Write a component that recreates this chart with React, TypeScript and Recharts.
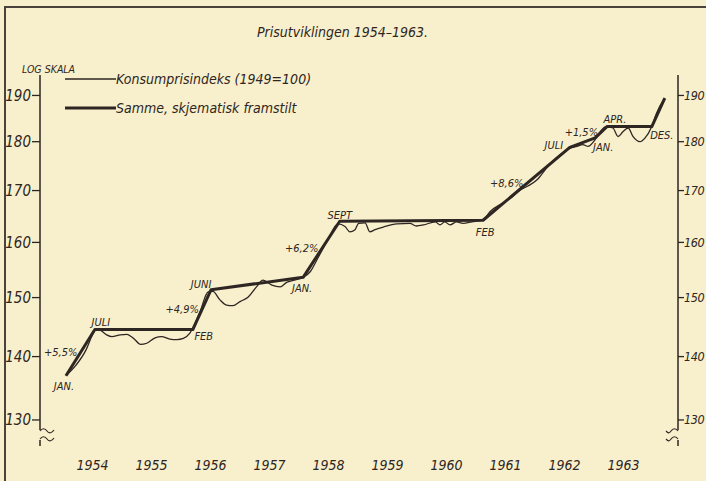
import React from "react"
import { LineChart, Line, XAxis, YAxis, ReferenceDot, Legend } from "recharts"

// Konsumprisindeks (1949 = 100)
const cpiYears = [
  1954.05, 1954.22, 1954.39, 1954.49, 1954.56, 1954.63, 1954.74, 1954.83, 1954.97, 1955.08,
  1955.22, 1955.31, 1955.42, 1955.56, 1955.67, 1955.81, 1955.93, 1956.04, 1956.15, 1956.32,
  1956.46, 1956.54, 1956.66, 1956.77, 1956.88, 1957.0, 1957.14, 1957.28, 1957.39, 1957.54,
  1957.68, 1957.79, 1957.92, 1958.07, 1958.19, 1958.32, 1958.49, 1958.66, 1958.78, 1958.86,
  1958.95, 1959.01, 1959.12, 1959.2, 1959.29, 1959.43, 1959.66, 1959.88, 1959.99, 1960.11,
  1960.31, 1960.39, 1960.47, 1960.56, 1960.67, 1960.78, 1960.93, 1961.12, 1961.24, 1961.46,
  1961.61, 1961.75, 1961.88, 1962.03, 1962.2, 1962.36, 1962.51, 1962.59, 1962.71, 1962.81,
  1962.9, 1962.98, 1963.07, 1963.13, 1963.21, 1963.32, 1963.41, 1963.49, 1963.58, 1963.66,
  1963.78, 1963.86, 1963.98, 1964.06, 1964.2,
]
const cpiValues = [
  136.9, 138.6, 141.1, 143.4, 144.6, 144.4, 143.6, 143.3, 143.6, 143.7,
  142.8, 142.0, 142.2, 143.1, 143.3, 142.9, 142.8, 143.0, 143.9, 147.5,
  151.0, 151.1, 149.6, 148.7, 148.6, 149.3, 150.1, 151.9, 153.1, 152.2,
  151.9, 152.7, 153.1, 153.6, 154.6, 157.1, 160.5, 163.5, 163.0, 162.0,
  162.4, 163.6, 163.7, 162.0, 162.4, 162.9, 163.5, 163.6, 163.1, 163.3,
  163.9, 163.3, 163.9, 163.3, 163.9, 163.6, 163.9, 164.3, 165.9, 167.6,
  168.7, 170.1, 170.9, 172.1, 174.6, 176.6, 178.0, 178.6, 179.0, 179.4,
  179.0, 179.8, 181.4, 182.5, 183.2, 182.9, 181.1, 182.1, 182.9, 181.1,
  180.0, 180.7, 183.2, 186.1, 189.4,
]

// "Samme, skjematisk framstilt"
const schemYears = [1954.05, 1954.54, 1956.2, 1956.51, 1958.07, 1958.69, 1961.12, 1962.59, 1963.02, 1963.22, 1963.98, 1964.2]
const schemValues = [136.9, 144.5, 144.5, 151.4, 153.6, 164.0, 164.2, 178.8, 180.8, 183.2, 183.2, 189.4]
const schemMonths = ["JAN.", "JULI", "FEB", "JUNI", "JAN.", "SEPT", "FEB", "JULI", "JAN.", "APR.", "DES.", ""]

// rise marked on each climbing stretch (index of the point it starts from)
const riseFrom = [0, 2, 4, 6, 8]
const riseText = ["+5,5%", "+4,9%", "+6,2%", "+8,6%", "+1,5%"]

const yearTicks = [1954, 1955, 1956, 1957, 1958, 1959, 1960, 1961, 1962, 1963, 1964]
const yearLabelTicks = [1954.5, 1955.5, 1956.5, 1957.5, 1958.5, 1959.5, 1960.5, 1961.5, 1962.5, 1963.5]
const valueTicks = [130, 140, 150, 160, 170, 180, 190]

const cpiData = cpiYears.map((x, i) => ({ x, v: cpiValues[i] }))
const schemData = schemYears.map((x, i) => ({ x, v: schemValues[i] }))

const INK = "#2e2622"
const PAPER = "#f8efcc"
const FONT = "'DejaVu Sans Condensed', 'DejaVu Sans', sans-serif"

// label offsets (px) for the month names around the schematic line
const monthOffsets = [
  [-2, 11], [6, -7], [11, 7], [-10, -5], [-1, 11], [0, -6],
  [2, 12], [-16, -2], [8, 10], [8, -7], [10, 9], [0, 0],
]

const textStyle = { fontFamily: FONT, fontStyle: "italic" as const, fill: INK }

function ChartLegend() {
  const rows = [
    { name: "Konsumprisindeks (1949=100)", width: 1.3 },
    { name: "Samme, skjematisk framstilt", width: 3 },
  ]
  return (
    <div style={{ fontFamily: FONT, fontStyle: "italic", color: INK, fontSize: 14 }}>
      {rows.map((r) => (
        <div key={r.name} style={{ display: "flex", alignItems: "center", height: 29 }}>
          <svg width={51} height={8} style={{ display: "block" }}>
            <line x1={0} x2={51} y1={4} y2={4} stroke={INK} strokeWidth={r.width} />
          </svg>
          <span style={{ whiteSpace: "nowrap" }}>{r.name}</span>
        </div>
      ))}
    </div>
  )
}

export default function App() {
  return (
    <div
      style={{
        position: "absolute",
        left: 0,
        top: 0,
        width: 706,
        height: 481,
        overflow: "hidden",
        background: PAPER,
      }}
    >
      {/* page frame */}
      <div
        style={{
          position: "absolute",
          left: 4,
          top: 6,
          width: 740,
          height: 473,
          borderLeft: `2px solid #4a423c`,
          borderTop: `2px solid #4a423c`,
          borderBottom: `2px solid #4a423c`,
        }}
      />
      <div
        style={{
          position: "absolute",
          left: 257,
          top: 24,
          fontFamily: FONT,
          fontStyle: "italic",
          fontSize: 14,
          color: INK,
          whiteSpace: "nowrap",
        }}
      >
        Prisutviklingen 1954–1963.
      </div>
      <div
        style={{
          position: "absolute",
          left: 22,
          top: 63,
          fontFamily: FONT,
          fontStyle: "italic",
          fontSize: 10.5,
          color: INK,
        }}
      >
        LOG SKALA
      </div>

      <LineChart width={730} height={481} margin={{ top: 75, right: 12, bottom: 0, left: 0 }}>
        <XAxis
          xAxisId="ticks"
          type="number"
          dataKey="x"
          domain={[1953.61, 1964.424]}
          allowDataOverflow
          ticks={yearTicks}
          height={0}
          tick={false}
          tickSize={6}
          stroke={INK}
          axisLine={{ stroke: INK, strokeWidth: 1.5 }}
          tickLine={{ stroke: INK, strokeWidth: 1.3 }}
        />
        <XAxis
          xAxisId="years"
          type="number"
          dataKey="x"
          domain={[1953.61, 1964.424]}
          allowDataOverflow
          ticks={yearLabelTicks}
          tickFormatter={(t: number) => String(Math.floor(t))}
          height={35}
          axisLine={false}
          tickLine={false}
          tickSize={0}
          tickMargin={14}
          tick={{ ...textStyle, fontSize: 14 }}
        />
        <YAxis
          yAxisId="left"
          scale="log"
          domain={[126.1, 194.6]}
          allowDataOverflow
          ticks={valueTicks}
          width={40}
          tickSize={8}
          tickMargin={1}
          axisLine={{ stroke: INK, strokeWidth: 1.5 }}
          tickLine={{ stroke: INK, strokeWidth: 1.3 }}
          tick={{ ...textStyle, fontSize: 15 }}
        />
        <YAxis
          yAxisId="right"
          orientation="right"
          scale="log"
          domain={[126.1, 194.6]}
          allowDataOverflow
          ticks={valueTicks}
          width={40}
          tickSize={6}
          tickMargin={0}
          axisLine={{ stroke: INK, strokeWidth: 1.5 }}
          tickLine={{ stroke: INK, strokeWidth: 1.3 }}
          tick={{ ...textStyle, fontSize: 12.5, letterSpacing: -0.4 }}
        />
        <Legend
          layout="horizontal"
          verticalAlign="middle"
          align="center"
          wrapperStyle={{ top: 64, left: 65, width: 280, height: 60 }}
          content={() => <ChartLegend />}
        />
        <Line
          xAxisId="ticks"
          yAxisId="left"
          data={cpiData}
          dataKey="v"
          type="monotone"
          stroke={INK}
          strokeWidth={1.3}
          dot={false}
          isAnimationActive={false}
          legendType="none"
        />
        <Line
          xAxisId="ticks"
          yAxisId="left"
          data={schemData}
          dataKey="v"
          type="linear"
          stroke={INK}
          strokeWidth={3}
          strokeLinejoin="round"
          dot={false}
          isAnimationActive={false}
          legendType="none"
        />
        {schemMonths.map((m, i) =>
          m ? (
            <ReferenceDot
              key={"m" + i}
              xAxisId="ticks"
              yAxisId="left"
              x={schemYears[i]}
              y={schemValues[i]}
              r={0}
              shape={(p: any) => (
                <text
                  x={p.cx + monthOffsets[i][0]}
                  y={p.cy + monthOffsets[i][1]}
                  textAnchor="middle"
                  dominantBaseline="central"
                  fontSize={11}
                  {...textStyle}
                >
                  {m}
                </text>
              )}
            />
          ) : null
        )}
        {riseFrom.map((s, i) => (
          <ReferenceDot
            key={"p" + i}
            xAxisId="ticks"
            yAxisId="left"
            x={(schemYears[s] + schemYears[s + 1]) / 2}
            y={(schemValues[s] + schemValues[s + 1]) / 2}
            r={0}
            shape={(p: any) => (
              <text
                x={p.cx - 3}
                y={p.cy}
                textAnchor="end"
                dominantBaseline="central"
                fontSize={11}
                {...textStyle}
              >
                {riseText[i]}
              </text>
            )}
          />
        ))}
      </LineChart>

      {/* axis breaks near the bottom of both value axes */}
      <svg
        width={706}
        height={481}
        style={{ position: "absolute", left: 0, top: 0, pointerEvents: "none" }}
      >
        <rect x={37} y={430} width={7} height={10} fill={PAPER} />
        <path d="M40 431 c2 -3 5 -3 7 0 s5 2 7 -1" stroke={INK} fill="none" strokeWidth={1.2} />
        <path d="M40 439 c2 -3 5 -3 7 0 s5 2 7 -1" stroke={INK} fill="none" strokeWidth={1.2} />
        <rect x={674} y={430} width={7} height={10} fill={PAPER} />
        <path d="M678 431 c-2 -3 -5 -3 -7 0 s-3 2 -5 0" stroke={INK} fill="none" strokeWidth={1.2} />
        <path d="M678 439 c-2 -3 -5 -3 -7 0 s-3 2 -5 0" stroke={INK} fill="none" strokeWidth={1.2} />
      </svg>
    </div>
  )
}
